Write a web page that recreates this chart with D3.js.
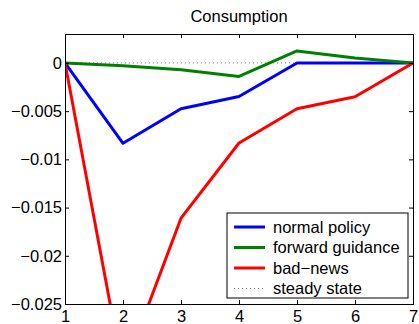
<!DOCTYPE html>
<html>
<head>
<meta charset="utf-8">
<script src="https://cdn.jsdelivr.net/npm/d3@7"></script>
<style>
  body { margin: 0; background: #fff; }
  text { font-family: "Liberation Sans", Arial, sans-serif; }
</style>
</head>
<body>
<div class="container"></div>
<script>
const w = 419;
const h = 324;
const margin = {top: 34, right: 6, bottom: 20, left: 65};
const fontSize = 16.5;

const periods = [1, 2, 3, 4, 5, 6, 7];
const normalPolicy = [0, -0.00833, -0.00475, -0.00348, 0, 0, 0];
const forwardGuidance = [0, -0.0003, -0.0007, -0.0014, 0.00124, 0.0005, 0];
const badNews = [0, -0.0321, -0.0161, -0.0083, -0.00475, -0.0035, 0];
const yTicks = [0, -0.005, -0.01, -0.015, -0.02, -0.025];

const series = [
  {name: "normal policy", values: normalPolicy, color: "#0000ff"},
  {name: "forward guidance", values: forwardGuidance, color: "#008000"},
  {name: "bad\u2212news", values: badNews, color: "#ff0000"}
];

const svg = d3.select(".container")
          .append("svg")
          .attr("width", w)
          .attr("height", h);

const xScale = d3.scaleLinear()
                 .domain([1, 7])
                 .range([margin.left, w - margin.right]);

const yScale = d3.scaleLinear()
                 .domain([-0.025, 0.003])
                 .range([h - margin.bottom, margin.top]);

svg.append("defs").append("clipPath")
   .attr("id", "clip")
   .append("rect")
   .attr("x", margin.left)
   .attr("y", margin.top)
   .attr("width", w - margin.left - margin.right)
   .attr("height", h - margin.top - margin.bottom);

const fmt = d => d === 0 ? "0" : "\u2212" + String(Math.abs(d));

// ticks inside, matlab style
const xAxis = d3.axisBottom(xScale).tickValues(periods).tickSize(-4).tickPadding(6).tickFormat(d3.format("d"));
const xAxisTop = d3.axisTop(xScale).tickValues(periods).tickSize(-4).tickFormat("");
const yAxis = d3.axisLeft(yScale).tickValues(yTicks).tickSize(-4).tickPadding(3).tickFormat(fmt);
const yAxisRight = d3.axisRight(yScale).tickValues(yTicks).tickSize(-4).tickFormat("");

const plot = svg.append("g").attr("clip-path", "url(#clip)");

// steady state
plot.append("line")
    .attr("x1", margin.left)
    .attr("x2", w - margin.right)
    .attr("y1", yScale(0))
    .attr("y2", yScale(0))
    .attr("stroke", "#555")
    .attr("stroke-width", 0.8)
    .attr("stroke-dasharray", "1,3");

const line = d3.line()
               .x((d, i) => xScale(periods[i]))
               .y(d => yScale(d));

plot.selectAll("path.series")
    .data(series)
    .enter()
    .append("path")
    .attr("class", "series")
    .attr("d", d => line(d.values))
    .attr("fill", "none")
    .attr("stroke", d => d.color)
    .attr("stroke-width", 3)
    .attr("stroke-linejoin", "round");

function styleAxis(g) {
  g.select(".domain").attr("stroke", "#000");
  g.selectAll("line").attr("stroke", "#000");
  g.selectAll("text").attr("font-size", fontSize).attr("fill", "#000");
}

svg.append("g")
   .attr("transform", "translate(0," + (h - margin.bottom) + ")")
   .call(xAxis).call(styleAxis);
svg.append("g")
   .attr("transform", "translate(0," + margin.top + ")")
   .call(xAxisTop).call(styleAxis);
svg.append("g")
   .attr("transform", "translate(" + margin.left + ",0)")
   .call(yAxis).call(styleAxis);
svg.append("g")
   .attr("transform", "translate(" + (w - margin.right) + ",0)")
   .call(yAxisRight).call(styleAxis);

svg.selectAll(".domain").attr("stroke-width", 1);

svg.append("text")
   .attr("x", (margin.left + w - margin.right) / 2)
   .attr("y", 22)
   .attr("text-anchor", "middle")
   .attr("font-size", fontSize)
   .text("Consumption");

// legend
const legend = svg.append("g").attr("transform", "translate(227,213)");
legend.append("rect")
      .attr("width", 181)
      .attr("height", 85)
      .attr("fill", "#fff")
      .attr("stroke", "#000")
      .attr("stroke-width", 1);

const legendItems = series.map(s => ({name: s.name, color: s.color, dash: null, width: 3}))
  .concat([{name: "steady state", color: "#555", dash: "1,3", width: 0.8}]);

const item = legend.selectAll("g.item")
      .data(legendItems)
      .enter()
      .append("g")
      .attr("class", "item")
      .attr("transform", (d, i) => "translate(0," + (14 + i * 20.5) + ")");

item.append("line")
    .attr("x1", 7)
    .attr("x2", 38)
    .attr("stroke", d => d.color)
    .attr("stroke-width", d => d.width)
    .attr("stroke-dasharray", d => d.dash);

item.append("text")
    .attr("x", 46)
    .attr("dy", "0.35em")
    .attr("font-size", fontSize)
    .text(d => d.name);
</script>
</body>
</html>
